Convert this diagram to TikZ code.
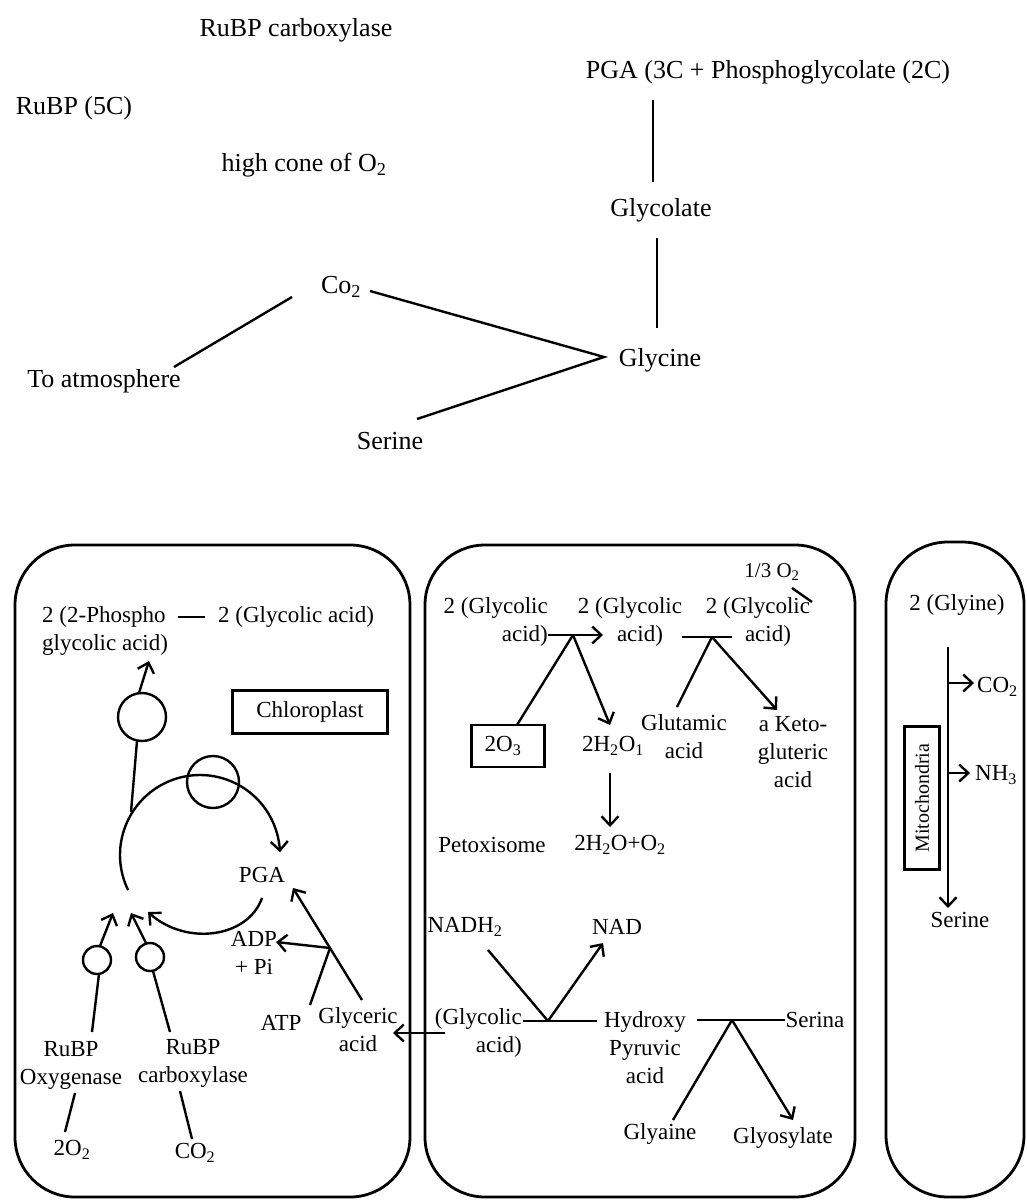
\documentclass[tikz,border=0pt]{standalone}
\usepackage{fontspec}
\setmainfont{Liberation Serif}
\usetikzlibrary{arrows.meta}
\begin{document}
\begin{tikzpicture}[x=1pt,y=-1pt,
  ln/.style={line width=2.4pt},
  arr/.style={line width=2.4pt,-{Straight Barb[length=9pt,width=17pt]}},
  big/.style={font=\fontsize{26}{30}\selectfont, inner sep=0pt},
  sm/.style={font=\fontsize{23}{28}\selectfont, inner sep=0pt},
  panel/.style={line width=2.8pt, rounded corners=60pt},
  ring/.style={line width=2.4pt}]
\useasboundingbox (0,0) rectangle (1026,1201);

% ---------- top scheme ----------
\node[big] (rubpc) at (296,30) {RuBP carboxylase};
\node[big] (pga) at (768,72) {PGA (3C + Phosphoglycolate (2C)};
\node[big] (rubp5) at (74,108) {RuBP (5C)};
\node[big] (higho) at (304,165) {high cone of O\textsubscript{2}};
\node[big] (glycolate) at (661,210) {Glycolate};
\node[big] (co2) at (341,287) {Co\textsubscript{2}};
\node[big] (atm) at (104,381) {To atmosphere};
\node[big] (glycine) at (660,360) {Glycine};
\node[big] (serine) at (390,441) {Serine};
\coordinate (pgaB) at (653,100);
\coordinate (glcT) at (653,182);
\coordinate (glcB) at (657,238);
\coordinate (glyT) at (657,328);
\coordinate (co2L) at (292,297);
\coordinate (atmT) at (174,367);
\coordinate (co2R) at (370,291);
\coordinate (vtx) at (604,357);
\coordinate (serT) at (417,419);
\draw[ln] (pgaB) -- (glcT);
\draw[ln] (glcB) -- (glyT);
\draw[ln] (co2L) -- (atmT);
\draw[ln] (co2R) -- (vtx) -- (serT);

% ---------- panels ----------
\draw[panel] (15,545) rectangle (410,1197);
\draw[panel] (425,545) rectangle (855,1197);
\draw[panel, rounded corners=62pt] (886,542) rectangle (1024,1197);

% ---------- chloroplast ----------
\node[sm, align=left, anchor=west] (phospho) at (42,631) {2 (2-Phospho\\glycolic acid)};
\node[sm, anchor=west] (glyc1) at (218,617) {2 (Glycolic acid)};
\coordinate (dashA) at (178,617);
\coordinate (dashB) at (205,617);
\draw[ln] (dashA) -- (dashB);
\node[sm, draw, line width=2.4pt, minimum width=155pt, minimum height=43pt] (chloro) at (310,712) {Chloroplast};

\node[ring, draw, circle, minimum size=48pt, inner sep=0pt] (c1) at (142,717) {};
\node[ring, draw, circle, minimum size=52pt, inner sep=0pt] (c2) at (213,782) {};
\node[ring, draw, circle, minimum size=28pt, inner sep=0pt] (c3) at (97,960) {};
\node[ring, draw, circle, minimum size=28pt, inner sep=0pt] (c4) at (150,957) {};

\coordinate (c1top) at (139,693);
\coordinate (phosTip) at (149,661);
\draw[arr] (c1top) -- (phosTip);
\coordinate (c1bot) at (137,741);
\coordinate (cycTop) at (131,812);
\draw[ln] (c1bot) -- (cycTop);
% cycle
\draw[arr] plot[domain=154:358, samples=80] ({200+80*cos(\x)},{855+80*sin(\x)});
\node[sm] (pgaL) at (262,875) {PGA};
\coordinate (pgaLow) at (262,898);
\coordinate (cycTip) at (148,912);
\draw[arr] (pgaLow) .. controls (248,938) and (186,946) .. (cycTip);

\coordinate (c3top) at (100,946);
\coordinate (t3) at (113,913);
\draw[arr] (c3top) -- (t3);
\coordinate (c3bot) at (99,974);
\coordinate (oxyT) at (92,1032);
\draw[ln] (c3bot) -- (oxyT);
\coordinate (c4top) at (146,943);
\coordinate (t4) at (131,913);
\draw[arr] (c4top) -- (t4);
\coordinate (c4bot) at (153,971);
\coordinate (carbT) at (170,1032);
\draw[ln] (c4bot) -- (carbT);

\node[sm, align=center] (oxy) at (71,1065) {RuBP\\Oxygenase};
\node[sm, align=center] (carb) at (193,1063) {RuBP\\carboxylase};
\coordinate (oxyB) at (75,1093);
\coordinate (o2T) at (65,1132);
\draw[ln] (oxyB) -- (o2T);
\node[sm] (o2) at (72,1150) {2O\textsubscript{2}};
\coordinate (carbB) at (180,1091);
\coordinate (cco2T) at (192,1139);
\draw[ln] (carbB) -- (cco2T);
\node[sm] (cco2) at (195,1153) {CO\textsubscript{2}};

\node[sm, align=center] (adp) at (254,953) {ADP\\+ Pi};
\node[sm] (atp) at (281,1023) {ATP};
\node[sm, align=center] (glyceric) at (358,1030) {Glyceric\\acid};
\coordinate (glyT2) at (362,1000);
\coordinate (pgaTip) at (293,888);
\draw[arr] (glyT2) -- (pgaTip);
\coordinate (atpT) at (310,1005);
\coordinate (cross) at (330,948);
\draw[ln] (atpT) -- (cross);
\coordinate (adpTip) at (276,942);
\draw[arr] (cross) -- (adpTip);

% ---------- peroxisome ----------
\node[sm, align=right, anchor=east] (g1) at (548,622) {2 (Glycolic\\acid)};
\node[sm, align=center] (g2) at (630,622) {2 (Glycolic\\\hspace*{20pt}acid)};
\node[sm, align=center] (g3) at (758,622) {2 (Glycolic\\\hspace*{20pt}acid)};
\node[sm, font=\fontsize{21}{24}\selectfont] (onethird) at (772,572) {1/3 O\textsubscript{2}};
\coordinate (slA) at (792,588);
\coordinate (slB) at (812,602);
\draw[ln] (slA) -- (slB);

\coordinate (g1e) at (548,635);
\coordinate (j1) at (573,635);
\coordinate (g2w) at (603,635);
\draw[arr] (g1e) -- (g2w);
\node[sm, draw, line width=2.4pt, minimum width=73pt, minimum height=42pt] (o3box) at (508,746) {2O\textsubscript{3}\hspace*{10pt}};
\coordinate (boxT) at (517,725);
\draw[ln] (j1) -- (boxT);
\coordinate (h2o2T) at (610,725);
\draw[arr] (j1) -- (h2o2T);
\node[sm] (h2o2) at (613,746) {2H\textsubscript{2}O\textsubscript{1}};
\coordinate (h2o2B) at (610,773);
\coordinate (h2oT) at (610,827);
\draw[arr] (h2o2B) -- (h2oT);
\node[sm] (perox) at (492,845) {Petoxisome};
\node[sm] (h2o) at (620,845) {2H\textsubscript{2}O+O\textsubscript{2}};

\coordinate (hA) at (682,637);
\coordinate (j2) at (712,637);
\coordinate (hB) at (732,637);
\draw[ln] (hA) -- (hB);
\coordinate (glutT) at (677,707);
\draw[ln] (j2) -- (glutT);
\coordinate (ketoT) at (777,710);
\draw[arr] (j2) -- (ketoT);
\node[sm, align=center] (glut) at (684,737) {Glutamic\\acid};
\node[sm, align=center] (keto) at (793,752) {a Keto-\\gluteric\\acid};

\node[sm] (nadh) at (465,927) {NADH\textsubscript{2}};
\node[sm] (nad) at (617,927) {NAD};
\node[sm, align=right, anchor=east] (g4) at (522,1033) {(Glycolic\\acid)};
\coordinate (nadhB) at (488,950);
\coordinate (j3) at (548,1021);
\coordinate (nadB) at (603,943);
\draw[ln] (nadhB) -- (j3);
\draw[arr] (j3) -- (nadB);
\coordinate (g4e) at (523,1021);
\coordinate (hydW) at (597,1021);
\draw[ln] (g4e) -- (hydW);
\node[sm, align=center] (hyd) at (645,1048) {Hydroxy\\Pyruvic\\acid};
\coordinate (hyE) at (697,1020);
\coordinate (j4) at (732,1020);
\coordinate (serW) at (785,1020);
\draw[ln] (hyE) -- (serW);
\node[sm] (serina) at (815,1020) {Serina};
\coordinate (glyaT) at (673,1120);
\draw[ln] (j4) -- (glyaT);
\coordinate (glyoT) at (793,1120);
\draw[arr] (j4) -- (glyoT);
\node[sm] (glyaine) at (660,1134) {Glyaine};
\node[sm] (glyos) at (783,1138) {Glyosylate};
\coordinate (perL) at (445,1033);
\coordinate (glycE) at (393,1033);
\draw[arr] (perL) -- (glycE);

% ---------- mitochondria ----------
\node[sm] (glyine) at (957,605) {2 (Glyine)};
\coordinate (mT) at (948,647);
\coordinate (mB) at (948,908);
\draw[arr] (mT) -- (mB);
\coordinate (mc) at (948,683);
\coordinate (mcT) at (974,683);
\draw[arr] (mc) -- (mcT);
\node[sm, anchor=west] (mco2) at (977,687) {CO\textsubscript{2}};
\coordinate (mn) at (948,773);
\coordinate (mnT) at (970,773);
\draw[arr] (mn) -- (mnT);
\node[sm, anchor=west] (nh3) at (975,775) {NH\textsubscript{3}};
\node[draw, line width=2.4pt, rotate=90, minimum width=143pt, minimum height=35pt, inner sep=0pt, font=\fontsize{20}{24}\selectfont] (mito) at (922,798) {Mitochondria};
\node[sm] (mser) at (960,920) {Serine};
\end{tikzpicture}
\end{document}
